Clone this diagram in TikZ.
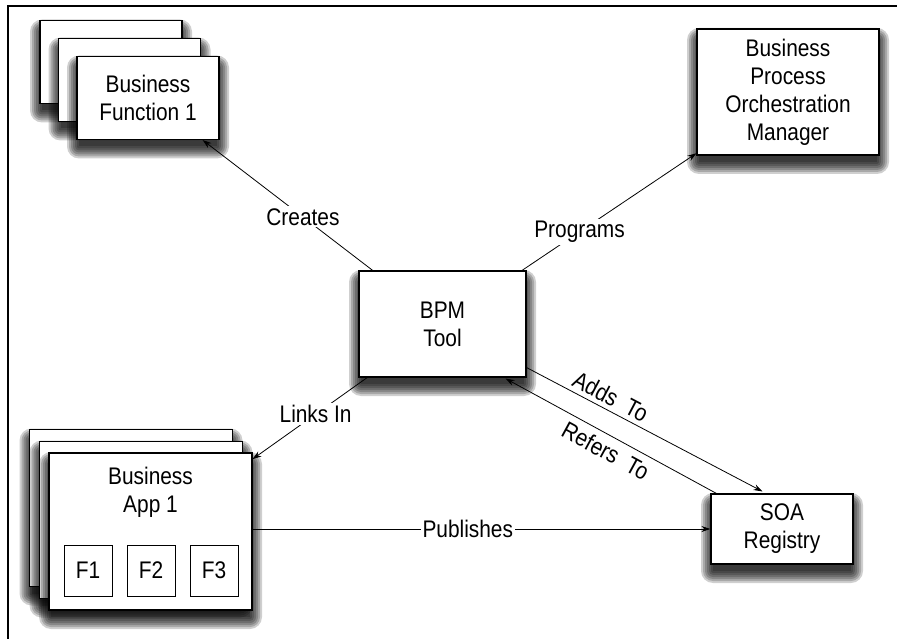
\documentclass[tikz,border=0pt]{standalone}
\usepackage{fontspec}
\setmainfont{Liberation Sans}[FakeStretch=0.87]
\usetikzlibrary{arrows.meta, calc}

% soft shadow under a box: centre x, centre y, width, height
\newcommand{\dropshade}[4]{%
  \foreach \e in {-2,0,...,10}
    \fill[black, opacity=0.19, rounded corners=\e+2] (#1-#3/2-\e, #2-#4/2-\e+9) rectangle (#1+#3/2+\e, #2+#4/2+\e+9);
}

\begin{document}
\begin{tikzpicture}[
    x=1pt, y=-1pt,
    font=\fontsize{24}{28}\selectfont,
    box/.style={draw, rectangle, fill=white, line width=1.1pt, align=center, inner sep=0pt},
    funcbox/.style={box, minimum width=142pt, minimum height=83pt},
    appbox/.style={box, minimum width=203pt, minimum height=157pt},
    smallbox/.style={draw, rectangle, line width=0.8pt, minimum width=48pt, minimum height=51pt, inner sep=0pt},
    arr/.style={-{Stealth[length=9pt, width=6pt]}, line width=0.8pt},
    lbl/.style={fill=white, inner sep=2pt}
]
\useasboundingbox (0,0) rectangle (897,639);

% Outer frame
\draw[line width=1.3pt] (8,6) rectangle (902,644);

% Business function stack
\dropshade{111}{62}{142}{83}
\node[funcbox] (func3) at (111,62) {};
\dropshade{129.5}{80}{142}{83}
\node[funcbox] (func2) at (129.5,80) {};
\dropshade{148}{98}{142}{83}
\node[funcbox] (func1) at (148,98) {Business\\Function 1};

% Orchestration manager
\dropshade{788}{92}{182}{126}
\node[box, minimum width=182pt, minimum height=126pt] (bpom) at (788,92) {Business\\Process\\Orchestration\\Manager};

% Central tool
\dropshade{442.5}{324}{167}{106}
\node[box, minimum width=167pt, minimum height=106pt] (bpm) at (442.5,324) {BPM\\Tool};

% Business application stack
\dropshade{131}{508}{203}{157}
\node[appbox] (app3) at (131,508) {};
\dropshade{141}{520}{203}{157}
\node[appbox] (app2) at (141,520) {};
\dropshade{150.5}{531.5}{203}{157}
\node[appbox] (app1) at (150.5,531.5) {};
\node[align=center] (app1label) at (150.5,492) {Business\\App 1};
\node[smallbox] (f1) at (88,570.5) {F1};
\node[smallbox] (f2) at (151,570.5) {F2};
\node[smallbox] (f3) at (214,570.5) {F3};

% Registry
\dropshade{782}{529}{142}{70}
\node[box, minimum width=142pt, minimum height=70pt] (soa) at (782,529) {SOA\\Registry};

% Connections from the tool
\draw[arr] (bpm) -- node[lbl, pos=0.41] {Creates} (func1);
\draw[arr] (bpm) -- node[lbl, pos=0.33] {Programs} (bpom);
\draw[arr] (bpm) -- node[lbl, pos=0.45] {Links In} (app1);

% Tool <-> registry
\draw[arr] ($(bpm.south east)+(0,-10)$) -- node[sloped, above=1pt, pos=0.33] {Adds~~To} ($(soa.north west)+(52,-2)$);
\draw[arr, {Stealth[length=9pt, width=6pt]}-] ($(bpm.south east)+(-21,1)$) -- node[sloped, below=3pt, pos=0.51] {Refers~~To} ($(soa.north west)+(6,0)$);

% Publishing
\draw[arr] (app1.east |- soa.west) -- node[lbl, pos=0.47] {Publishes} (soa.west);

\end{tikzpicture}
\end{document}
